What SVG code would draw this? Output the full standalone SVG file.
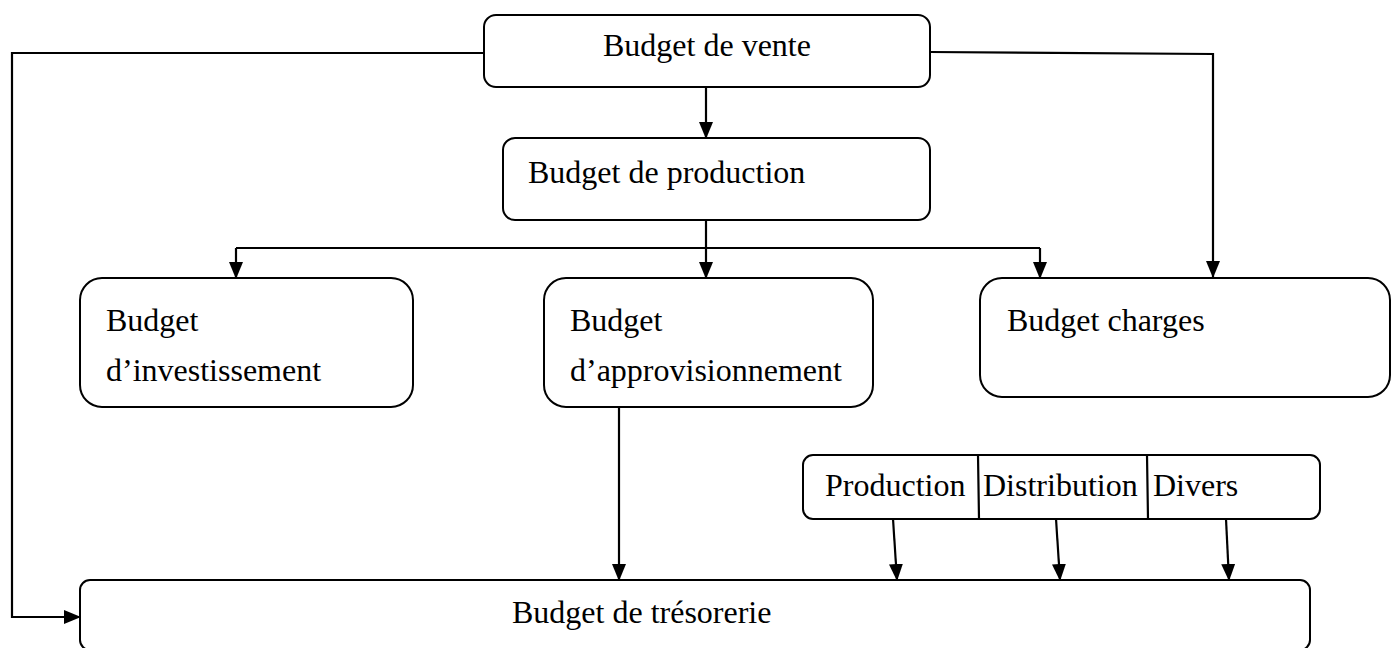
<svg xmlns="http://www.w3.org/2000/svg" width="1397" height="648" viewBox="0 0 1397 648">
<style>
.box{fill:#fff;stroke:#000;stroke-width:2}
.t{font-family:"Liberation Serif",serif;font-size:32px;fill:#000}
.c{fill:none;stroke:#000;stroke-width:2.2}
</style>
<defs>
<marker id="ah" markerWidth="17" markerHeight="14" refX="16" refY="7" orient="auto" markerUnits="userSpaceOnUse">
<path d="M0,0 L17,7 L0,14 Z" fill="#000"/>
</marker>
</defs>
<g id="connectors">
<path class="c" d="M484,53 H12 V617 H80" marker-end="url(#ah)"/>
<path class="c" d="M930,52 L1213,54 V277" marker-end="url(#ah)"/>
<path class="c" d="M706,87 V138" marker-end="url(#ah)"/>
<path class="c" d="M706,220 V278" marker-end="url(#ah)"/>
<path class="c" d="M236,248 H1040"/>
<path class="c" d="M236,248 V278" marker-end="url(#ah)"/>
<path class="c" d="M1040,248 V278" marker-end="url(#ah)"/>
<path class="c" d="M619,407 V580" marker-end="url(#ah)"/>
<path class="c" d="M893,519 L897,580" marker-end="url(#ah)"/>
<path class="c" d="M1056,519 L1060,580" marker-end="url(#ah)"/>
<path class="c" d="M1226,519 L1229,580" marker-end="url(#ah)"/>
</g>
<g id="vente"><rect class="box" x="484" y="15" width="446" height="72" rx="12"/><text class="t" x="603" y="56">Budget de vente</text></g>
<g id="production"><rect class="box" x="503" y="138" width="427" height="82" rx="12"/><text class="t" x="528" y="183">Budget de production</text></g>
<g id="investissement"><rect class="box" x="80" y="278" width="333" height="129" rx="22"/><text class="t" x="106" y="331">Budget</text><text class="t" x="106" y="381">d’investissement</text></g>
<g id="approvisionnement"><rect class="box" x="544" y="278" width="329" height="129" rx="22"/><text class="t" x="570" y="331">Budget</text><text class="t" x="570" y="381">d’approvisionnement</text></g>
<g id="charges"><rect class="box" x="980" y="278" width="410" height="119" rx="22"/><text class="t" x="1007" y="331">Budget charges</text></g>
<g id="sous-budgets"><rect class="box" x="803" y="455" width="517" height="64" rx="10"/>
<path class="c" d="M978,455 L979,519 M1147,455 L1148,519"/>
<text class="t" x="825" y="496">Production</text><text class="t" x="983" y="496">Distribution</text><text class="t" x="1153" y="496">Divers</text></g>
<g id="tresorerie"><rect class="box" x="80" y="580" width="1230" height="70" rx="10"/><text class="t" x="512" y="623">Budget de trésorerie</text></g>
</svg>
